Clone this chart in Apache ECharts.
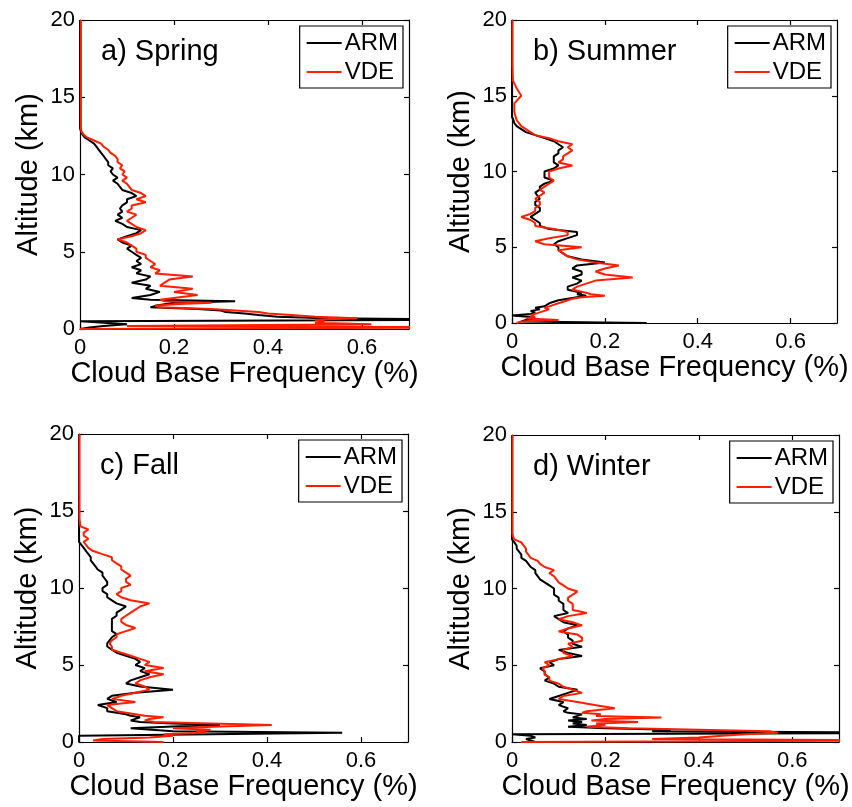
<!DOCTYPE html>
<html>
<head>
<meta charset="utf-8">
<script src="https://cdn.jsdelivr.net/npm/echarts@6/dist/echarts.min.js"></script>
<style>
  html, body { margin: 0; padding: 0; background: #fff; }
  #chart { width: 852px; height: 807px; }
</style>
</head>
<body>
<div id="chart"></div>
<script>
// Altitude levels (km) shared by every profile
const altitudeKm = [
  0.0, 0.1, 0.2, 0.3, 0.4, 0.5, 0.6, 0.7, 0.8, 0.9,
  1.0, 1.1, 1.2, 1.3, 1.4, 1.5, 1.6, 1.7, 1.8, 1.9, 2.0,
  2.2, 2.4, 2.6, 2.8, 3.0, 3.2, 3.4, 3.6, 3.8, 4.0,
  4.2, 4.4, 4.6, 4.8, 5.0, 5.2, 5.4, 5.6, 5.8, 6.0,
  6.2, 6.4, 6.6, 6.8, 7.0, 7.2, 7.4, 7.6, 7.8, 8.0,
  8.2, 8.4, 8.6, 8.8, 9.0, 9.2, 9.4, 9.6, 9.8, 10.0,
  10.2, 10.4, 10.6, 10.8, 11.0, 11.2, 11.4, 11.6, 11.8, 12.0,
  12.2, 12.4, 12.6, 12.8, 13.0, 13.2, 13.4, 13.6, 13.8, 14.0,
  14.5, 15, 15.5, 16, 17, 18, 19, 20
];

// Cloud base frequency (%) per season
const springARM = [
  0, 0.02, 0.05, 0.1, 0.05, 0, 0.9, 0.52, 0.42, 0.38,
  0.35, 0.31, 0.3, 0.25, 0.15, 0.16, 0.16, 0.2, 0.33, 0.15, 0.11,
  0.15, 0.17, 0.14, 0.15, 0.11, 0.14, 0.15, 0.12, 0.13, 0.11,
  0.13, 0.12, 0.13, 0.12, 0.11, 0.1, 0.11, 0.09, 0.08, 0.1,
  0.12, 0.13, 0.1, 0.09, 0.075, 0.09, 0.08, 0.09, 0.085, 0.09,
  0.1, 0.1, 0.12, 0.11, 0.09, 0.085, 0.08, 0.07, 0.08, 0.07,
  0.065, 0.07, 0.06, 0.06, 0.055, 0.05, 0.045, 0.04, 0.035, 0.03,
  0.02, 0.01, 0.005, 0.002, 0, 0, 0, 0, 0, 0,
  0, 0, 0, 0, 0, 0, 0, 0
];
const springVDE = [
  0, 0.9, 0.1, 0.62, 0.5, 0.52, 0.5, 0.59, 0.5, 0.45,
  0.4, 0.38, 0.33, 0.28, 0.17, 0.16, 0.2, 0.28, 0.18, 0.17, 0.17,
  0.25, 0.2, 0.24, 0.17, 0.18, 0.19, 0.24, 0.16, 0.17, 0.15,
  0.16, 0.15, 0.14, 0.14, 0.12, 0.12, 0.11, 0.1, 0.08, 0.11,
  0.13, 0.14, 0.12, 0.11, 0.1, 0.11, 0.12, 0.1, 0.11, 0.11,
  0.14, 0.12, 0.14, 0.13, 0.11, 0.105, 0.1, 0.09, 0.1, 0.09,
  0.095, 0.085, 0.09, 0.08, 0.08, 0.075, 0.065, 0.06, 0.05, 0.045,
  0.03, 0.015, 0.007, 0.003, 0.002, 0.002, 0.002, 0.002, 0.002, 0.002,
  0.002, 0.002, 0.002, 0.002, 0.002, 0.002, 0.002, 0.002
];
const summerARM = [
  0.29, 0.02, 0.03, 0.05, 0.04, 0, 0.04, 0.05, 0.04, 0.06,
  0.05, 0.07, 0.07, 0.08, 0.09, 0.1, 0.12, 0.14, 0.16, 0.14, 0.15,
  0.12, 0.12, 0.14, 0.15, 0.13, 0.15, 0.15, 0.13, 0.14, 0.2,
  0.15, 0.12, 0.11, 0.1, 0.1, 0.09, 0.1, 0.12, 0.14, 0.14,
  0.08, 0.06, 0.06, 0.05, 0.04, 0.05, 0.06, 0.06, 0.05, 0.05,
  0.06, 0.055, 0.05, 0.06, 0.06, 0.07, 0.09, 0.07, 0.07, 0.07,
  0.09, 0.1, 0.09, 0.09, 0.09, 0.1, 0.1, 0.11, 0.1, 0.09,
  0.07, 0.05, 0.03, 0.02, 0.01, 0.005, 0.003, 0, 0, 0,
  0, 0, 0, 0, 0, 0, 0, 0
];
const summerVDE = [
  0.01, 0.02, 0.1, 0.03, 0.05, 0.04, 0.05, 0.06, 0.06, 0.08,
  0.07, 0.08, 0.08, 0.1, 0.1, 0.12, 0.13, 0.15, 0.2, 0.17, 0.16,
  0.13, 0.14, 0.16, 0.18, 0.26, 0.2, 0.18, 0.2, 0.23, 0.18,
  0.14, 0.12, 0.11, 0.1, 0.15, 0.07, 0.05, 0.08, 0.12, 0.12,
  0.09, 0.05, 0.05, 0.04, 0.02, 0.04, 0.05, 0.05, 0.06, 0.06,
  0.05, 0.06, 0.07, 0.06, 0.07, 0.08, 0.09, 0.08, 0.08, 0.08,
  0.1, 0.13, 0.1, 0.11, 0.11, 0.12, 0.13, 0.12, 0.13, 0.1,
  0.08, 0.05, 0.04, 0.03, 0.02, 0.015, 0.01, 0.008, 0.006, 0.005,
  0.005, 0.02, 0.01, 0.002, 0.001, 0.001, 0.001, 0.001
];
const fallARM = [
  0, 0, 0, 0, 0, 0, 0.56, 0.2, 0.2, 0.11,
  0.2, 0.3, 0.2, 0.13, 0.11, 0.12, 0.13, 0.11, 0.1, 0.08, 0.06,
  0.06, 0.04, 0.08, 0.06, 0.07, 0.12, 0.2, 0.13, 0.1, 0.11,
  0.13, 0.15, 0.13, 0.14, 0.12, 0.13, 0.12, 0.1, 0.08, 0.07,
  0.06, 0.06, 0.065, 0.07, 0.08, 0.07, 0.07, 0.07, 0.07, 0.07,
  0.08, 0.08, 0.09, 0.1, 0.08, 0.07, 0.06, 0.06, 0.05, 0.05,
  0.06, 0.06, 0.055, 0.05, 0.05, 0.04, 0.035, 0.03, 0.025, 0.025,
  0.02, 0.015, 0.01, 0.005, 0, 0, 0, 0, 0, 0,
  0, 0, 0, 0, 0, 0, 0, 0
];
const fallVDE = [
  0.18, 0.03, 0.05, 0.15, 0.2, 0.18, 0.27, 0.25, 0.28, 0.2,
  0.3, 0.41, 0.28, 0.16, 0.14, 0.15, 0.18, 0.14, 0.12, 0.1, 0.08,
  0.07, 0.06, 0.12, 0.07, 0.09, 0.12, 0.15, 0.14, 0.12, 0.13,
  0.15, 0.18, 0.14, 0.18, 0.14, 0.15, 0.13, 0.11, 0.09, 0.07,
  0.07, 0.065, 0.07, 0.08, 0.08, 0.1, 0.12, 0.1, 0.09, 0.09,
  0.1, 0.11, 0.12, 0.13, 0.15, 0.11, 0.09, 0.08, 0.09, 0.09,
  0.11, 0.1, 0.1, 0.11, 0.1, 0.09, 0.09, 0.08, 0.07, 0.07,
  0.05, 0.03, 0.02, 0.015, 0.01, 0.02, 0.01, 0.01, 0.02, 0.003,
  0.001, 0.001, 0.001, 0.001, 0.001, 0.001, 0.001, 0.001
];
const winterARM = [
  0.05, 0.04, 0.03, 0.05, 0.04, 0, 0.9, 0.3, 0.34, 0.2,
  0.12, 0.16, 0.13, 0.15, 0.12, 0.16, 0.13, 0.14, 0.15, 0.12, 0.11,
  0.12, 0.1, 0.11, 0.08, 0.1, 0.12, 0.14, 0.1, 0.09, 0.07,
  0.08, 0.07, 0.07, 0.06, 0.09, 0.08, 0.1, 0.15, 0.12, 0.1,
  0.15, 0.13, 0.13, 0.12, 0.12, 0.11, 0.12, 0.14, 0.11, 0.1,
  0.09, 0.12, 0.11, 0.11, 0.11, 0.1, 0.1, 0.09, 0.09, 0.09,
  0.08, 0.07, 0.06, 0.055, 0.05, 0.05, 0.04, 0.035, 0.03, 0.02,
  0.02, 0.015, 0.01, 0.01, 0.005, 0, 0, 0, 0, 0,
  0, 0, 0, 0, 0, 0, 0, 0
];
const winterVDE = [
  0.02, 0.9, 0.3, 0.4, 0.45, 0.5, 0.57, 0.55, 0.4, 0.25,
  0.16, 0.2, 0.18, 0.27, 0.17, 0.2, 0.32, 0.18, 0.19, 0.15, 0.16,
  0.22, 0.18, 0.14, 0.1, 0.11, 0.15, 0.13, 0.11, 0.1, 0.08,
  0.08, 0.07, 0.07, 0.065, 0.08, 0.07, 0.1, 0.13, 0.11, 0.11,
  0.13, 0.12, 0.15, 0.15, 0.14, 0.1, 0.12, 0.15, 0.13, 0.1,
  0.12, 0.16, 0.13, 0.13, 0.13, 0.12, 0.12, 0.13, 0.14, 0.12,
  0.11, 0.1, 0.095, 0.09, 0.08, 0.09, 0.07, 0.06, 0.055, 0.04,
  0.035, 0.03, 0.03, 0.025, 0.02, 0.005, 0.002, 0.001, 0.001, 0.001,
  0.001, 0.001, 0.001, 0.001, 0.001, 0.001, 0.001, 0.001
];

const panelTitles = ['a) Spring', 'b) Summer', 'c) Fall', 'd) Winter'];
const seriesNames = ['ARM', 'VDE'];
const xTicks = [0, 0.2, 0.4, 0.6];
const xAxisName = 'Cloud Base Frequency (%)';
const yAxisName = 'Altitude (km)';

const profiles = [
  [springARM, springVDE],
  [summerARM, summerVDE],
  [fallARM, fallVDE],
  [winterARM, winterVDE]
];

const FONT = '"Liberation Sans", Arial, Helvetica, sans-serif';
const lineColors = ['#000000', '#ff1e00'];

// plot-area rectangles of the four panels
const panels = [
  { left: 80,  top: 20,  width: 329, height: 309 },
  { left: 512, top: 20,  width: 325, height: 303 },
  { left: 79,  top: 434, width: 329, height: 308 },
  { left: 512, top: 435, width: 327, height: 307 }
];

const grid = [], xAxis = [], yAxis = [], series = [], title = [], legend = [];

const axisLineStyle = { color: '#000', width: 1.2 };

panels.forEach((p, i) => {
  grid.push({ left: p.left, top: p.top, width: p.width, height: p.height, containLabel: false });

  // bottom and top x axes
  xAxis.push({
    type: 'value', gridIndex: i, min: 0, max: 0.7, position: 'bottom',
    name: xAxisName, nameLocation: 'middle', nameGap: 30,
    nameTextStyle: { fontSize: 29, color: '#000', fontFamily: FONT },
    axisLine: { show: true, onZero: false, lineStyle: axisLineStyle },
    axisTick: { show: true, inside: true, length: 5, customValues: xTicks, lineStyle: axisLineStyle },
    axisLabel: { show: true, customValues: xTicks, margin: 8, fontSize: 22, color: '#000', fontFamily: FONT },
    splitLine: { show: false }
  });
  xAxis.push({
    type: 'value', gridIndex: i, min: 0, max: 0.7, position: 'top',
    axisLine: { show: true, onZero: false, lineStyle: axisLineStyle },
    axisTick: { show: true, inside: true, length: 5, customValues: xTicks, lineStyle: axisLineStyle },
    axisLabel: { show: false },
    splitLine: { show: false }
  });

  // left and right y axes
  yAxis.push({
    type: 'value', gridIndex: i, min: 0, max: 20, interval: 5, position: 'left',
    name: yAxisName, nameLocation: 'middle', nameGap: 37,
    nameTextStyle: { fontSize: 29, color: '#000', fontFamily: FONT },
    axisLine: { show: true, onZero: false, lineStyle: axisLineStyle },
    axisTick: { show: true, inside: true, length: 5, lineStyle: axisLineStyle },
    axisLabel: { show: true, margin: 5, fontSize: 22, color: '#000', fontFamily: FONT },
    splitLine: { show: false }
  });
  yAxis.push({
    type: 'value', gridIndex: i, min: 0, max: 20, interval: 5, position: 'right',
    axisLine: { show: true, onZero: false, lineStyle: axisLineStyle },
    axisTick: { show: true, inside: true, length: 5, lineStyle: axisLineStyle },
    axisLabel: { show: false },
    splitLine: { show: false }
  });

  profiles[i].forEach((vals, k) => {
    series.push({
      type: 'line', name: seriesNames[k],
      xAxisIndex: i * 2, yAxisIndex: i * 2,
      data: vals.map((v, j) => [v, altitudeKm[j]]),
      showSymbol: false, symbol: 'none', smooth: false, clip: true,
      lineStyle: { color: lineColors[k], width: 2 },
      itemStyle: { color: lineColors[k] },
      silent: true, animation: false,
      z: 3 + k
    });
  });

  title.push({
    text: panelTitles[i],
    left: p.left + 21, top: p.top + 17,
    padding: 0,
    textStyle: { fontSize: 29, fontWeight: 'normal', color: '#000', fontFamily: FONT }
  });

  legend.push({
    data: seriesNames,
    orient: 'vertical',
    right: 852 - (p.left + p.width) + 6,
    top: p.top + 6,
    icon: 'rect', itemWidth: 35, itemHeight: 2, itemGap: 5,
    padding: [5, 5, 4, 7],
    borderColor: '#000', borderWidth: 1.2,
    backgroundColor: '#fff',
    selectedMode: false,
    textStyle: { fontSize: 24, color: '#000', fontFamily: FONT, padding: [0, 0, 0, -2] }
  });
});

const chart = echarts.init(document.getElementById('chart'), null, { renderer: 'canvas' });
chart.setOption({
  animation: false,
  backgroundColor: '#fff',
  grid, xAxis, yAxis, series, title, legend
});
</script>
</body>
</html>
